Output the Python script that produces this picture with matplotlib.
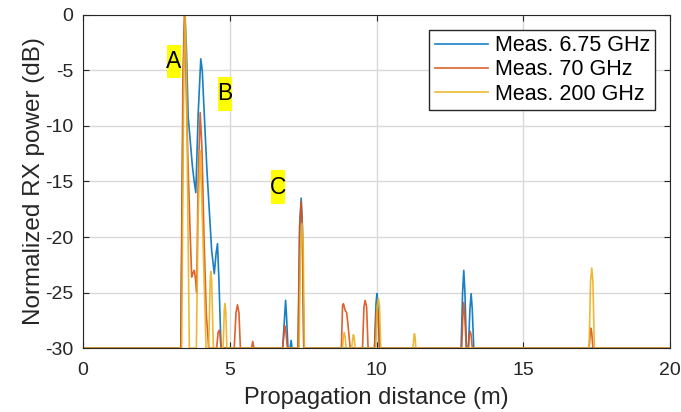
import matplotlib.pyplot as plt
from matplotlib.patches import Rectangle

plt.rcParams['font.family'] = ['Liberation Sans', 'DejaVu Sans']
plt.rcParams['axes.unicode_minus'] = False

# Meas. 6.75 GHz
d_675 = [0, 3.33, 3.42, 3.47, 3.52, 3.58, 3.65, 3.72, 3.78, 3.84, 3.92, 4.01, 4.06, 4.16,
         4.22, 4.30, 4.38, 4.47, 4.53, 4.58, 4.63, 4.70, 6.80, 6.87, 6.90, 6.93, 6.98,
         7.05, 7.09, 7.12, 7.33, 7.38, 7.43, 7.47, 7.52, 9.93, 9.98, 10.01, 10.05, 10.10,
         12.88, 12.93, 12.97, 13.01, 13.06, 13.13, 13.18, 13.22, 13.26, 13.31, 20]
p_675 = [-30, -30, -5, 0, -3, -9.2, -11.3, -13.5, -14.9, -16, -9, -3.96, -5, -10.7,
         -14, -17.6, -21.2, -23.3, -21.5, -20.6, -24, -30, -30, -27, -25.7, -27, -30,
         -30, -29.3, -30, -30, -19, -16.5, -19, -30, -30, -26, -25.1, -26.5, -30,
         -30, -25, -23, -25, -30, -30, -26.5, -25.1, -26.5, -30, -30]

# Meas. 70 GHz
d_70 = [0, 3.33, 3.40, 3.45, 3.50, 3.57, 3.64, 3.70, 3.75, 3.79, 3.84, 3.87, 3.92, 3.99,
        4.05, 4.12, 4.20, 4.28, 4.55, 4.60, 4.63, 4.66, 4.70, 5.15, 5.21, 5.26, 5.31,
        5.36, 5.74, 5.78, 5.82, 6.80, 6.86, 6.88, 6.91, 6.96, 7.32, 7.38, 7.43, 7.47,
        7.52, 8.80, 8.84, 8.87, 8.93, 8.98, 9.03, 9.10, 9.52, 9.57, 9.61, 9.66, 9.71,
        9.93, 9.98, 10.02, 10.06, 10.10, 12.90, 12.94, 12.97, 13.00, 13.06, 13.12, 13.16,
        13.19, 13.22, 13.26, 17.24, 17.28, 17.30, 17.33, 17.37, 20]
p_70 = [-30, -30, -6, 0, -5, -13, -19, -23.6, -23.2, -23, -24, -25, -15, -8.8,
        -12, -20, -27, -30, -30, -28.6, -28.4, -28.6, -30, -30, -26.8, -26.1, -26.8,
        -30, -30, -29.4, -30, -30, -28.3, -28, -28.5, -30, -30, -19, -16.8, -19,
        -30, -30, -26.2, -26, -26.6, -26.8, -28, -30, -30, -26.3, -25.7, -26.3, -30,
        -30, -27, -26.4, -27, -30, -30, -27, -25.9, -27, -30, -30, -28.8,
        -28.5, -28.8, -30, -30, -28.6, -28.2, -28.6, -30, -30]

# Meas. 200 GHz
d_200 = [0, 3.36, 3.43, 3.48, 3.52, 3.57, 3.62, 3.86, 3.92, 3.99, 4.06, 4.19, 4.28, 4.33,
         4.35, 4.38, 4.44, 4.77, 4.81, 4.83, 4.86, 4.90, 7.36, 7.41, 7.46, 7.50, 7.54,
         8.84, 8.87, 8.90, 8.93, 8.96, 9.15, 9.19, 9.21, 9.24, 9.27, 9.97, 10.02, 10.06,
         10.10, 10.14, 11.24, 11.27, 11.29, 11.31, 11.34, 17.24, 17.29, 17.33, 17.37,
         17.42, 20]
p_200 = [-30, -30, -5, 0, -5, -18, -30, -30, -18, -12.2, -18, -30, -30, -24,
         -23.1, -24, -30, -30, -26.6, -26, -26.6, -30, -30, -21, -18.8, -21, -30,
         -30, -29, -28.6, -29, -30, -30, -29.1, -28.8, -29.1, -30, -30, -26.2, -25.5,
         -26.2, -30, -30, -29, -28.7, -29, -30, -30, -24, -22.8, -24,
         -30, -30]

labels = ['Meas. 6.75 GHz', 'Meas. 70 GHz', 'Meas. 200 GHz']
colors = ['#0072BD', '#D95319', '#EDB120']

# region markers (centre of the yellow tag)
marks = ['A', 'B', 'C']
mark_x = [3.1, 4.84, 6.64]
mark_y = [-4.2, -7.1, -15.5]
tag_w, tag_h = 0.5, 3.05

fig = plt.figure(figsize=(6.81, 4.12), dpi=100)
ax = fig.add_axes([0.122, 0.155, 0.862, 0.809])

for d, p, lab, c in zip([d_675, d_70, d_200], [p_675, p_70, p_200], labels, colors):
    ax.plot(d, p, color=c, lw=1.2, alpha=0.9, label=lab)

for m, x, y in zip(marks, mark_x, mark_y):
    ax.add_patch(Rectangle((x - tag_w / 2, y - tag_h / 2), tag_w, tag_h,
                           fc='yellow', ec='none', zorder=3))
    ax.text(x, y, m, fontsize=16.5, ha='center', va='center', zorder=4)

ax.set_xlim(0, 20)
ax.set_ylim(-30, 0)
ax.set_xticks([0, 5, 10, 15, 20])
ax.set_yticks([-30, -25, -20, -15, -10, -5, 0])
ax.grid(True, color='#d9d9d9', lw=1)
ax.tick_params(direction='in', top=True, right=True, labelsize=14, colors='#262626',
               length=4, pad=7)
ax.tick_params(axis='x', pad=10)
for s in ax.spines.values():
    s.set_color('#262626')
ax.set_xlabel('Propagation distance (m)', fontsize=17, color='#262626', labelpad=6)
ax.set_ylabel('Normalized RX power (dB)', fontsize=17.5, color='#262626', labelpad=0)

leg = ax.legend(loc='upper right', bbox_to_anchor=(0.975, 0.955), borderaxespad=0,
                fontsize=15.5, handlelength=2.5, handletextpad=0.3, labelspacing=0.15,
                borderpad=0.25, fancybox=False, edgecolor='#262626', framealpha=1)
leg.get_frame().set_linewidth(1)

fig.savefig('out.png', dpi=100)
